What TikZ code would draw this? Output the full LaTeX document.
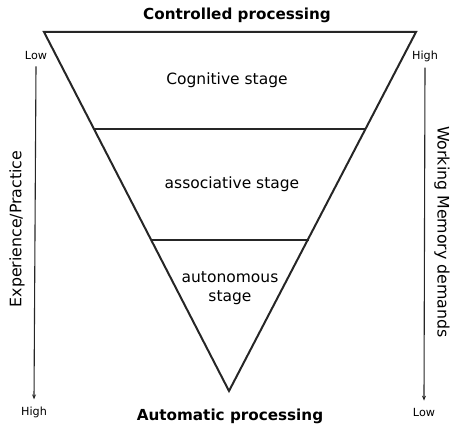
\documentclass[tikz,border=0pt]{standalone}
\usepackage{fontspec}
\setmainfont{DejaVu Sans}
\usetikzlibrary{arrows.meta}
\begin{document}
\begin{tikzpicture}[x=1pt,y=-1pt,
  tri/.style={draw=black!85, line width=2pt, line join=miter},
  sep/.style={draw=black!85, line width=2pt},
  axis/.style={draw=black!85, line width=1.1pt, -{Stealth[length=5pt,width=4pt]}},
  small/.style={font=\fontsize{11.2}{13}\selectfont, inner sep=0pt},
  stage/.style={font=\fontsize{15.5}{19}\selectfont, inner sep=0pt, align=center},
  title/.style={font=\fontsize{15.2}{18}\bfseries\selectfont, inner sep=0pt},
  side/.style={font=\fontsize{15.8}{18}\selectfont, inner sep=0pt}]
\useasboundingbox (0,0) rectangle (464,446);
\coordinate (tl) at (44,32);
\coordinate (tr) at (416,32);
\coordinate (ap) at (229,391);
\draw[tri] (tl) -- (tr) -- (ap) -- cycle;
\coordinate (l1) at (94,129);
\coordinate (r1) at (365,129);
\coordinate (l2) at (151,240);
\coordinate (r2) at (309,240);
\draw[sep] (l1) -- (r1);
\draw[sep] (l2) -- (r2);
\node[title] (ctl) at (237,15) {Controlled processing};
\node[title] (aut) at (230,416) {Automatic processing};
\node[stage] (cog) at (227,80) {Cognitive stage};
\node[stage] (asc) at (232,184) {associative stage};
\node[stage] (ant) at (230,288) {autonomous\\stage};
\node[small] (lowL) at (36,56) {Low};
\node[small] (highL) at (34,412) {High};
\node[small] (highR) at (425,56) {High};
\node[small] (lowR) at (424,412) {Low};
\draw[axis] ([yshift=-6pt]lowL.south) -- ([yshift=7pt]highL.north);
\draw[axis] ([yshift=-6pt]highR.south) -- ([yshift=7pt]lowR.north);
\node[side, rotate=90] (exp) at (17,229) {Experience/Practice};
\node[side, rotate=-90] (wm) at (442,232) {Working Memory demands};
\end{tikzpicture}
\end{document}
